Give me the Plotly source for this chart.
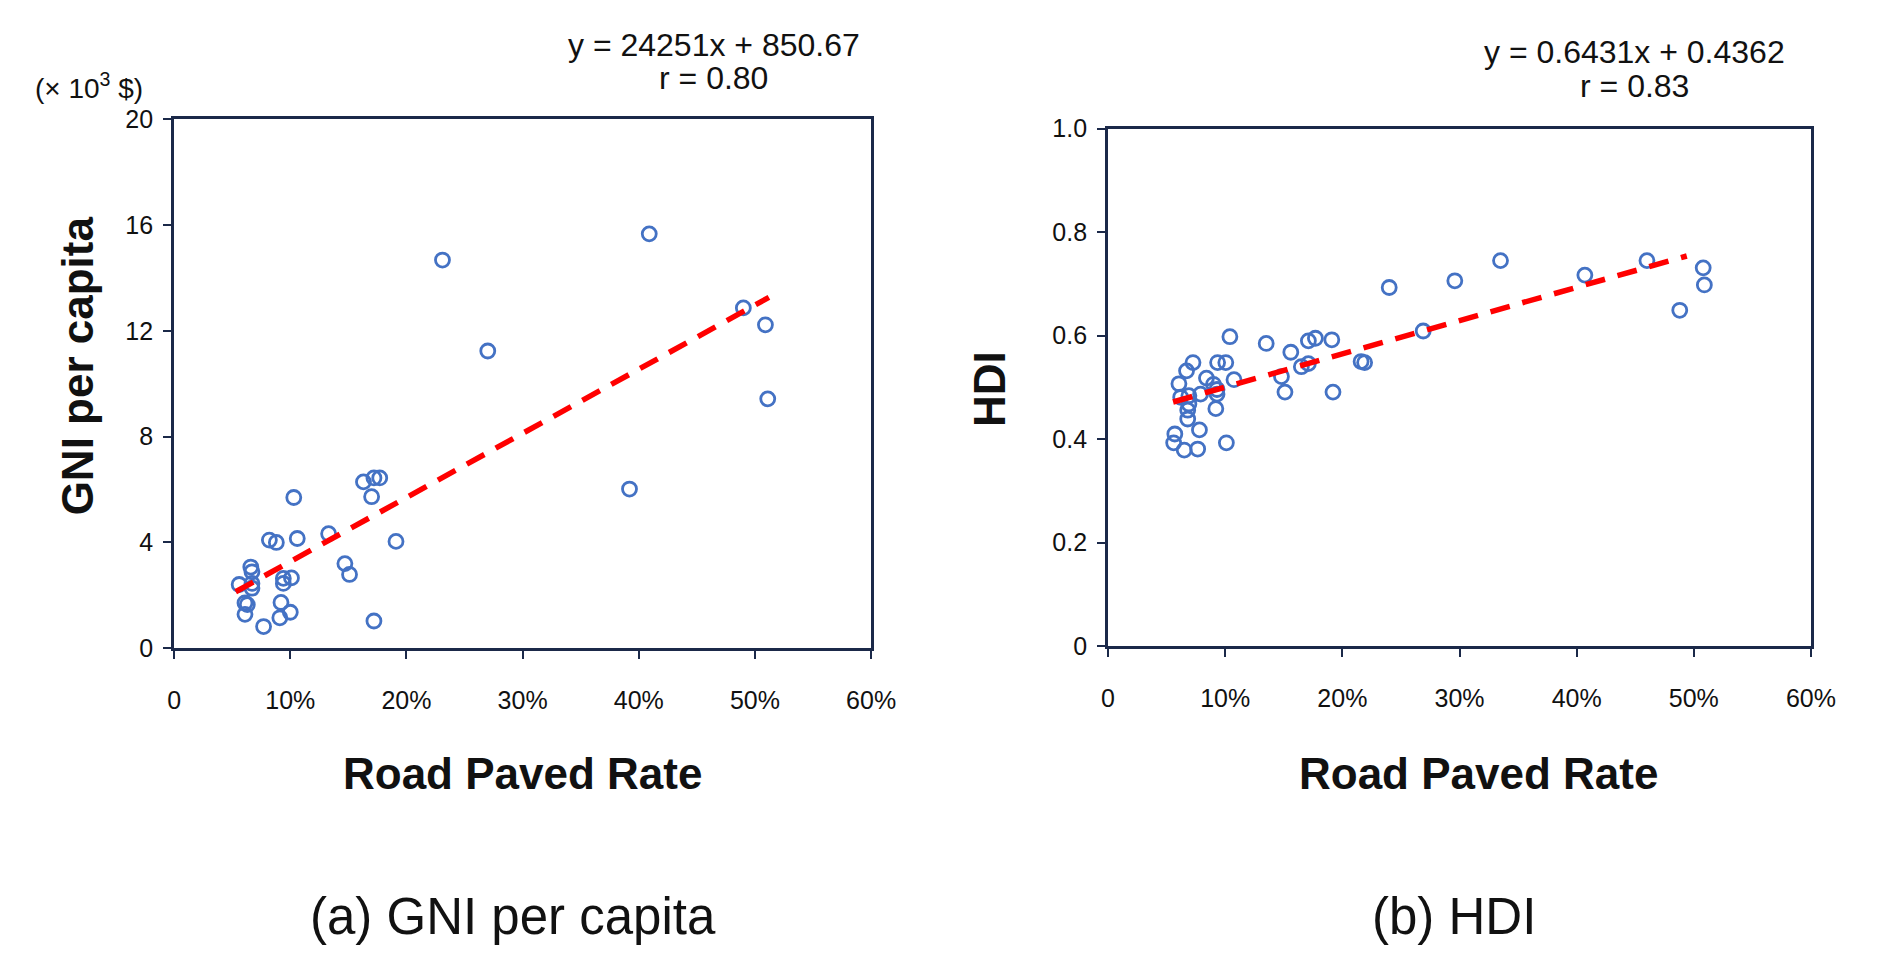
import plotly.graph_objects as go

# ---------------- data ----------------
# (a) GNI per capita vs road paved rate  (x: fraction, y: thousand $)
gni_x = [0.231, 0.409, 0.270, 0.490, 0.509, 0.511, 0.392,
         0.103, 0.082, 0.088, 0.106, 0.133, 0.163, 0.172, 0.177, 0.170,
         0.191, 0.147, 0.151, 0.066, 0.067, 0.056, 0.067, 0.067, 0.094,
         0.101, 0.094, 0.061, 0.063, 0.092, 0.061, 0.091, 0.100, 0.077, 0.172]
gni_y = [14.68, 15.67, 11.24, 12.87, 12.23, 9.43, 6.02,
         5.70, 4.09, 4.00, 4.15, 4.33, 6.29, 6.44, 6.44, 5.73,
         4.04, 3.20, 2.79, 3.07, 2.89, 2.41, 2.27, 2.45, 2.64,
         2.66, 2.45, 1.71, 1.65, 1.73, 1.28, 1.15, 1.36, 0.82, 1.03]
gni_slope = 24.251      # thousand $ per unit rate  (y = 24251x + 850.67)
gni_icpt = 0.85067
gni_trend_x = [0.053, 0.512]

# (b) HDI vs road paved rate
hdi_x = [0.240, 0.296, 0.335, 0.269, 0.219, 0.407, 0.460, 0.508, 0.509, 0.488,
         0.104, 0.135, 0.156, 0.171, 0.177, 0.191, 0.216, 0.165, 0.171, 0.148,
         0.151, 0.192, 0.0725, 0.067, 0.0935, 0.1005, 0.0605, 0.084, 0.090, 0.093,
         0.093, 0.1075, 0.062, 0.069, 0.079, 0.069, 0.068, 0.068, 0.092, 0.078,
         0.057, 0.056, 0.065, 0.0765, 0.101]
hdi_y = [0.693, 0.706, 0.745, 0.609, 0.548, 0.717, 0.745, 0.731, 0.698, 0.649,
         0.598, 0.585, 0.568, 0.590, 0.595, 0.592, 0.550, 0.540, 0.546, 0.521,
         0.491, 0.491, 0.548, 0.532, 0.548, 0.548, 0.507, 0.518, 0.506, 0.496,
         0.487, 0.515, 0.481, 0.484, 0.487, 0.468, 0.456, 0.439, 0.459, 0.418,
         0.410, 0.393, 0.379, 0.381, 0.393]
hdi_slope = 0.6431
hdi_icpt = 0.4362
hdi_trend_x = [0.0555, 0.494]

x_tickvals = [0, 0.1, 0.2, 0.3, 0.4, 0.5, 0.6]
x_ticktext = ["0", "10%", "20%", "30%", "40%", "50%", "60%"]
gni_tickvals = [0, 4, 8, 12, 16, 20]
gni_ticktext = ["0", "4", "8", "12", "16", "20"]
hdi_tickvals = [0, 0.2, 0.4, 0.6, 0.8, 1.0]
hdi_ticktext = ["0", "0.2", "0.4", "0.6", "0.8", "1.0"]

# ---------------- figure ----------------
W, H = 1892, 973
FONT = "Liberation Sans, Arial, sans-serif"
AXCOL = "#1b2949"
MARKCOL = "#4472C4"
TXT = "#111111"

def px(x):
    return x / W

def py(y):
    return 1 - y / H

fig = go.Figure()

marker = dict(symbol="circle-open", size=14, color=MARKCOL,
              line=dict(width=2.8, color=MARKCOL))
trend_line = dict(color="#FF0000", width=5.5, dash="20px,13px")

fig.add_trace(go.Scatter(x=gni_x, y=gni_y, mode="markers", marker=marker,
                         xaxis="x", yaxis="y", showlegend=False))
fig.add_trace(go.Scatter(x=gni_trend_x, y=[gni_slope * v + gni_icpt for v in gni_trend_x],
                         mode="lines", line=trend_line,
                         xaxis="x", yaxis="y", showlegend=False))

fig.add_trace(go.Scatter(x=hdi_x, y=hdi_y, mode="markers", marker=marker,
                         xaxis="x2", yaxis="y2", showlegend=False))
fig.add_trace(go.Scatter(x=hdi_trend_x, y=[hdi_slope * v + hdi_icpt for v in hdi_trend_x],
                         mode="lines", line=trend_line,
                         xaxis="x2", yaxis="y2", showlegend=False))

axis_common = dict(showline=True, linecolor=AXCOL, linewidth=3, mirror=True,
                   ticks="outside", ticklen=8, tickwidth=2, tickcolor=AXCOL,
                   showgrid=False, zeroline=False,
                   tickfont=dict(family=FONT, size=25, color=TXT))

fig.update_layout(
    width=W, height=H,
    margin=dict(l=0, r=0, t=0, b=0),
    paper_bgcolor="white", plot_bgcolor="white",
    xaxis=dict(domain=[px(170), px(879)], range=[0, 0.6], tickvals=x_tickvals,
               ticktext=x_ticktext, anchor="y", ticklabelstandoff=20, **axis_common),
    yaxis=dict(domain=[py(653), py(108.5)], range=[0, 20], tickvals=gni_tickvals,
               ticktext=gni_ticktext, anchor="x", ticklabelstandoff=5, **axis_common),
    xaxis2=dict(domain=[px(1120), px(1835)], range=[0, 0.6], tickvals=x_tickvals,
                ticktext=x_ticktext, anchor="y2", ticklabelstandoff=20, **axis_common),
    yaxis2=dict(domain=[py(651), py(118)], range=[0, 1.0], tickvals=hdi_tickvals,
                ticktext=hdi_ticktext, anchor="x2", ticklabelstandoff=5, **axis_common),
)

def ann(text, x, y, size, bold=False, angle=0):
    fig.add_annotation(text=("<b>%s</b>" % text) if bold else text,
                       x=px(x), y=py(y), xref="paper", yref="paper",
                       showarrow=False, textangle=angle, xanchor="center", yanchor="middle",
                       font=dict(family=FONT, size=size, color=TXT))

ann("y = 24251x + 850.67", 719, 32, 32)
ann("r = 0.80", 719, 66, 32)
ann("y = 0.6431x + 0.4362", 1655, 39, 32)
ann("r = 0.83", 1655, 74, 32)
ann("(× 10<sup>3</sup> $)", 83, 74, 28)
ann("GNI per capita", 72, 362, 44, bold=True, angle=-90)
ann("HDI", 1000, 386, 44, bold=True, angle=-90)
ann("Road Paved Rate", 524, 782, 44, bold=True)
ann("Road Paved Rate", 1497, 782, 44, bold=True)
ann("(a) GNI per capita", 515, 929, 51)
ann("(b) HDI", 1472, 929, 51)

fig.write_html("out.html",
               config={"displayModeBar": False},
               post_script="document.body.style.margin='0';"
                           "document.body.style.overflow='hidden';")
